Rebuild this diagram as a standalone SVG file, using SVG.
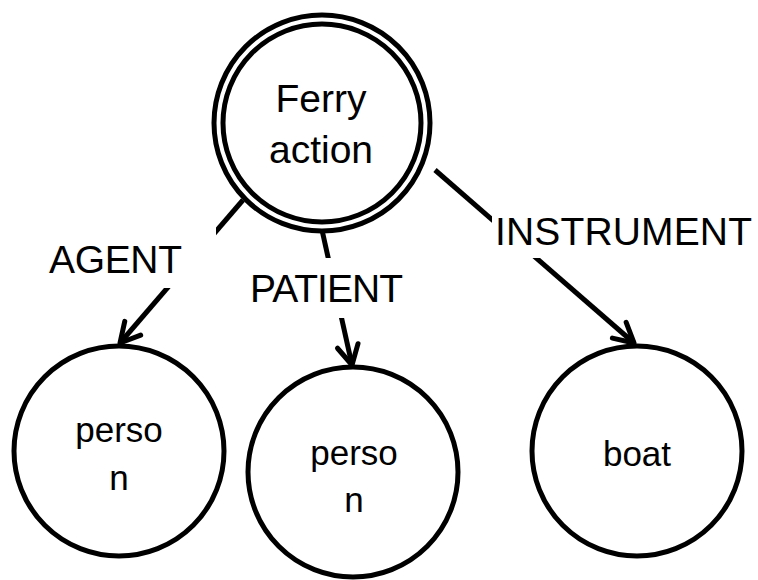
<svg xmlns="http://www.w3.org/2000/svg" width="758" height="580" viewBox="0 0 758 580">
<style>
.node{fill:#fff;stroke:#000;stroke-width:5}
.ring{fill:none;stroke:#000;stroke-width:5}
.edge{fill:none;stroke:#000;stroke-width:5}
.t{font-family:"Liberation Sans",Arial,sans-serif;font-size:35px;fill:#000;text-anchor:middle}
.tt{font-family:"Liberation Sans",Arial,sans-serif;font-size:39px;fill:#000;text-anchor:middle}
.lbl{font-family:"Liberation Sans",Arial,sans-serif;font-size:39px;fill:#000}
.bg{fill:#fff;stroke:none}
</style>
<defs>
<marker id="arr" markerUnits="userSpaceOnUse" viewBox="-25 -15 30 30" refX="0" refY="0" markerWidth="30" markerHeight="30" orient="auto" overflow="visible">
<path d="M -19.5 -10.5 L 0 0 L -19.5 10.5" fill="none" stroke="#000" stroke-width="5" stroke-linecap="round" stroke-linejoin="round"/>
</marker>
</defs>
<rect width="758" height="580" fill="#fff"/>
<g id="connectors">
<line class="edge" x1="243" y1="200" x2="120" y2="343" marker-end="url(#arr)"/>
<line class="edge" x1="322" y1="230" x2="352" y2="365" marker-end="url(#arr)"/>
<line class="edge" x1="435" y1="170" x2="634" y2="343" marker-end="url(#arr)"/>
<rect class="bg" x="40" y="226" width="176" height="62"/>
<text class="lbl" x="49" y="273" textLength="133">AGENT</text>
<rect class="bg" x="244" y="258" width="166" height="60"/>
<text class="lbl" x="250" y="302" textLength="153">PATIENT</text>
<rect class="bg" x="492" y="214" width="266" height="44"/>
<text class="lbl" x="495" y="245" textLength="257">INSTRUMENT</text>
</g>
<g id="ferry">
<circle class="ring" cx="322" cy="123" r="108"/>
<circle class="node" cx="322" cy="123" r="99"/>
<text class="tt" x="321" y="112">Ferry</text>
<text class="tt" x="321" y="163">action</text>
</g>
<g id="person1">
<circle class="node" cx="119" cy="451" r="105"/>
<text class="t" x="119" y="442">perso</text>
<text class="t" x="119" y="490">n</text>
</g>
<g id="person2">
<circle class="node" cx="353" cy="472" r="105"/>
<text class="t" x="354" y="465">perso</text>
<text class="t" x="354" y="512">n</text>
</g>
<g id="boat">
<circle class="node" cx="637" cy="451" r="105"/>
<text class="t" x="637" y="466">boat</text>
</g>
</svg>
